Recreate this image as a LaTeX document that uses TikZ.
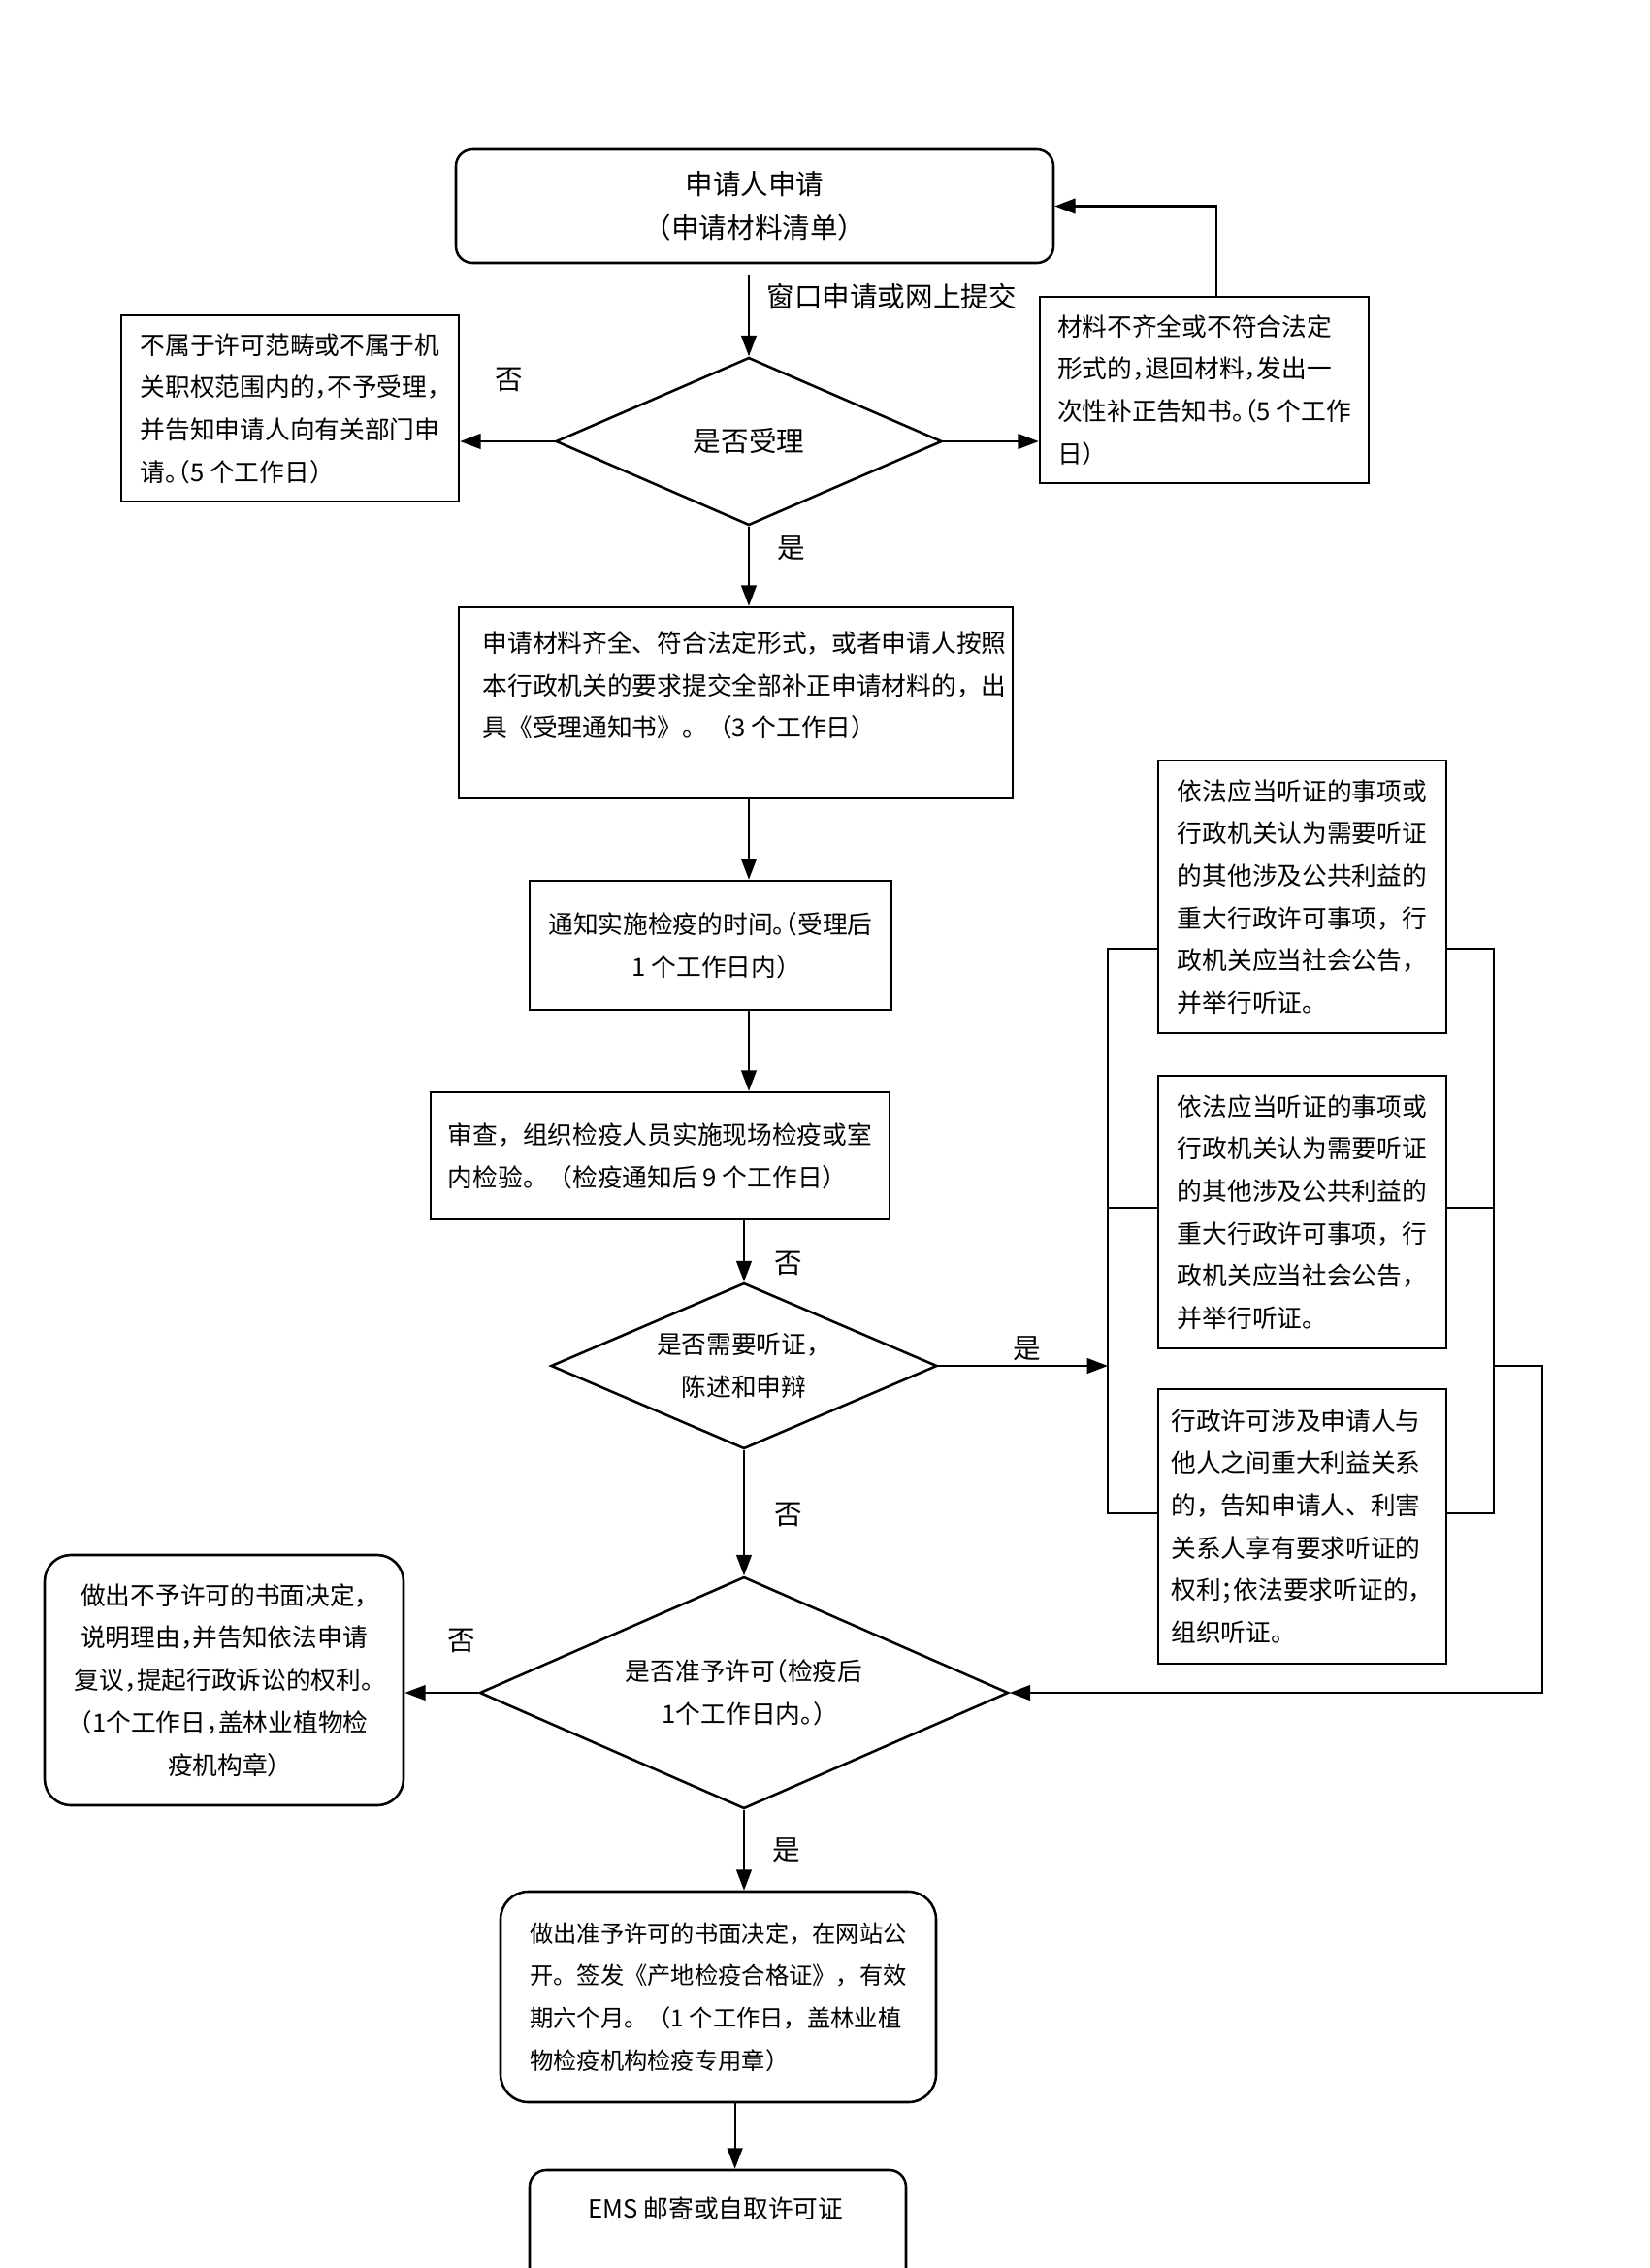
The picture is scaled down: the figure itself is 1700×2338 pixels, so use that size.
\documentclass[tikz,border=0pt]{standalone}
\usepackage{fontspec}
\setmainfont{Noto Sans CJK SC}
\newfontfamily\cjkh{Noto Sans CJK SC}[RawFeature=+halt]
\usetikzlibrary{arrows.meta,shapes.geometric}
\begin{document}
\begin{tikzpicture}[x=0.35pt,y=-0.35pt,
  wh/.style 2 args={minimum width=#1*0.35pt, minimum height=#2*0.35pt},
  box/.style={draw, line width=0.9pt, inner sep=0pt, align=left, font=\fontsize{9pt}{15.3pt}\selectfont},
  cbox/.style={box, align=center},
  diam/.style={draw, diamond, shape aspect=2.3, inner sep=0pt, line width=0.9pt, align=center, font=\fontsize{9pt}{15.5pt}\selectfont},
  txt/.style={inner sep=0pt, align=left, font=\fontsize{9pt}{15.3pt}\selectfont},
  lbl/.style={inner sep=0pt, font=\fontsize{10pt}{12pt}\selectfont},
  arr/.style={-{Triangle[length=7.5pt,width=5.5pt]}, line width=0.8pt},
  conn/.style={line width=0.8pt}]
\useasboundingbox (0,0) rectangle (1700,2338);

% top start box
\node[cbox, rounded corners=6pt, wh={616}{117}, font=\fontsize{10pt}{16pt}\selectfont] (a) at (778,212.5) {申请人申请\\（申请材料清单）};
\node[lbl, anchor=west] (l0) at (790,306) {窗口申请或网上提交};

% decision 1
\node[diam, wh={398}{173}, font=\fontsize{10pt}{12pt}\selectfont] (d1) at (772,455) {是否受理};
\node[box, wh={348}{192}, font=\cjkh\fontsize{9pt}{15.3pt}\selectfont] (l1) at (299,421) {不属于许可范畴或不属于机\\关职权范围内的，不予受理，\\并告知申请人向有关部门申\\请。（5 个工作日）};
\node[box, wh={339}{192}, font=\cjkh\fontsize{9pt}{15.3pt}\selectfont] (r1) at (1241.5,402) {材料不齐全或不符合法定\\形式的，退回材料，发出一\\次性补正告知书。（5 个工作\\日）};
\node[lbl] (n1) at (525,391) {否};
\node[lbl] (y1) at (816,565) {是};

% accepted
\node[box, wh={571}{197}] (b1) at (758.5,724.5) {};
\node[txt, anchor=north west] (b1t) at (497,650) {申请材料齐全、符合法定形式，或者申请人按照\\本行政机关的要求提交全部补正申请材料的，出\\具《受理通知书》。（3 个工作日）};

\node[cbox, wh={373}{133}, font=\cjkh\fontsize{9pt}{15.3pt}\selectfont] (c1) at (732.5,974.5) {通知实施检疫的时间。（受理后\\1 个工作日内）};
\node[box, wh={473}{131}] (c2) at (680.5,1191.5) {审查，组织检疫人员实施现场检疫或室\\内检验。（检疫通知后 9 个工作日）};

% decision 2
\node[diam, wh={398}{171}] (d2) at (767,1408) {是否需要听证，\\陈述和申辩};
\node[lbl] (n2) at (813,1302) {否};
\node[lbl] (y2) at (1059,1390) {是};

% hearing boxes
\node[box, wh={297}{281}] (h1) at (1342.5,924.5) {依法应当听证的事项或\\行政机关认为需要听证\\的其他涉及公共利益的\\重大行政许可事项，行\\政机关应当社会公告，\\并举行听证。};
\node[box, wh={297}{281}] (h2) at (1342.5,1249.5) {依法应当听证的事项或\\行政机关认为需要听证\\的其他涉及公共利益的\\重大行政许可事项，行\\政机关应当社会公告，\\并举行听证。};
\node[box, wh={297}{283}] (h3) at (1342.5,1573.5) {行政许可涉及申请人与\\他人之间重大利益关系\\的，告知申请人、利害\\关系人享有要求听证的\\权利\makebox[0.5em][l]{；}依法要求听证的，\\组织听证。};

\coordinate (s1l) at (1142,978);
\coordinate (s2l) at (1142,1245);
\coordinate (s3l) at (1142,1560);
\coordinate (s1r) at (1540,978);
\coordinate (s2r) at (1540,1245);
\coordinate (s3r) at (1540,1560);
\coordinate (outer) at (1590,1745);
\coordinate (rup) at (1254,306);

% decision 3
\node[diam, wh={545}{239}, font=\cjkh\fontsize{9pt}{15.5pt}\selectfont] (d3) at (767,1745) {是否准予许可（检疫后\\1个工作日内。）};
\node[lbl] (n3) at (813,1561) {否};
\node[lbl] (n4) at (476,1691) {否};
\node[lbl] (y3) at (811,1907) {是};

\node[cbox, rounded corners=9.5pt, wh={370}{258}, font=\cjkh\fontsize{9pt}{15.3pt}\selectfont] (l3) at (231,1732) {做出不予许可的书面决定，\\说明理由，并告知依法申请\\复议，提起行政诉讼的权利。\\（1个工作日，盖林业植物检\\疫机构章）};

\node[box, rounded corners=10pt, wh={449}{217}, font=\fontsize{8.5pt}{15.3pt}\selectfont] (bb) at (740.5,2058.5) {做出准予许可的书面决定，在网站公\\开。签发《产地检疫合格证》，有效\\期六个月。（1 个工作日，盖林业植\\物检疫机构检疫专用章）};

\node[box, rounded corners=6pt, wh={388}{206}] (ems) at (740,2340) {};
\node[txt] (emst) at (738,2277) {EMS 邮寄或自取许可证};

% connectors
\draw[arr, shorten <=4pt] (a.south -| d1.north) -- (d1.north);
\draw[arr] (d1.west) -- (d1.west -| l1.east);
\draw[arr] (d1.east) -- (d1.east -| r1.west);
\draw[arr] (rup |- r1.north) |- (a.east);
\draw[arr] (d1.south) -- (b1.north -| d1.south);
\draw[arr] (b1.south -| d1.south) -- (c1.north -| d1.south);
\draw[arr] (c1.south -| d1.south) -- (c2.north -| d1.south);
\draw[arr] (c2.south -| d2.north) -- (d2.north);
\draw[arr] (d2.south) -- (d3.north);
\draw[arr] (d2.east) -- (d2.east -| s1l);
\draw[conn] (h1.west |- s1l) -- (s1l) -- (s3l) -- (h3.west |- s3l);
\draw[conn] (h2.west |- s2l) -- (s2l);
\draw[conn] (h1.east |- s1r) -- (s1r) -- (s3r) -- (h3.east |- s3r);
\draw[conn] (h2.east |- s2r) -- (s2r);
\draw[arr] (d2.east -| s1r) -| (outer) |- (d3.east);
\draw[arr] (d3.west) -- (d3.west -| l3.east);
\draw[arr] (d3.south) -- (bb.north -| d3.south);
\draw[arr] ([xshift=6pt]bb.south) -- ([xshift=6pt]bb.south |- ems.north);
\end{tikzpicture}
\end{document}
